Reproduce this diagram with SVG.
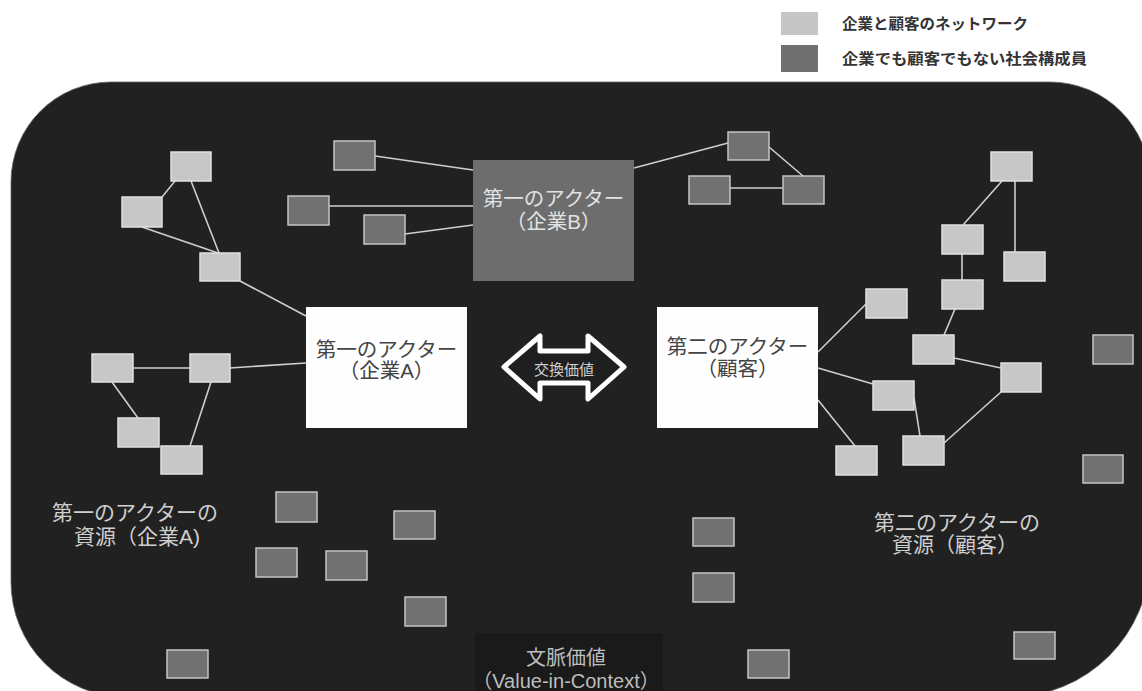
<svg xmlns="http://www.w3.org/2000/svg" width="1142" height="691" viewBox="0 0 1142 691">
<defs>
<style>
.t{font-family:"Liberation Sans","Noto Sans CJK JP",sans-serif;text-anchor:middle}
.lt{fill:#c7c7c7;stroke:#e0e0e0;stroke-width:1.5}
.dk{fill:#717171;stroke:#c4c4c4;stroke-width:1.5}
.ln{stroke:#cfcfcf;stroke-width:1.6;fill:none}
.actor{font-size:20.5px;fill:#444}
.lab{font-size:21px;fill:#cfcfcf}
.leg{font-family:"Noto Sans CJK JP",sans-serif;font-size:15px;font-weight:bold;fill:#333}
</style>
</defs>
<rect width="1142" height="691" fill="#ffffff"/>
<g id="legend">
<rect x="781" y="12" width="37" height="23" fill="#c6c6c6"/>
<text class="leg" x="842" y="29" textLength="186" lengthAdjust="spacingAndGlyphs">企業と顧客のネットワーク</text>
<rect x="781" y="45" width="37" height="27" fill="#707070"/>
<text class="leg" x="842" y="64" textLength="245" lengthAdjust="spacingAndGlyphs">企業でも顧客でもない社会構成員</text>
</g>
<g id="context">
<path d="M 11,182 A 100 100 0 0 1 111,82 L 1050,82 A 100 100 0 0 1 1150,182 L 1150,557 A 140 140 0 0 1 1010,697 L 126,697 A 115 115 0 0 1 11,582 Z" fill="#212121" stroke="#666" stroke-width="0.8"/>
</g>
<g id="connectors">
<line class="ln" x1="175" y1="181" x2="162" y2="197"/>
<line class="ln" x1="191" y1="181" x2="219" y2="253"/>
<line class="ln" x1="142" y1="227" x2="218" y2="253"/>
<line class="ln" x1="240" y1="281" x2="306" y2="316"/>
<line class="ln" x1="375" y1="156" x2="473" y2="170"/>
<line class="ln" x1="329" y1="206" x2="473" y2="206"/>
<line class="ln" x1="405" y1="234" x2="473" y2="225"/>
<line class="ln" x1="634" y1="168" x2="728" y2="143"/>
<line class="ln" x1="769" y1="147" x2="803" y2="176"/>
<line class="ln" x1="730" y1="188" x2="783" y2="188"/>
<line class="ln" x1="133" y1="368" x2="190" y2="368"/>
<line class="ln" x1="230" y1="368" x2="306" y2="363"/>
<line class="ln" x1="112" y1="382" x2="138" y2="418"/>
<line class="ln" x1="211" y1="382" x2="190" y2="446"/>
<line class="ln" x1="1002" y1="181" x2="963" y2="225"/>
<line class="ln" x1="1015" y1="181" x2="1015" y2="252"/>
<line class="ln" x1="962" y1="254" x2="962" y2="280"/>
<line class="ln" x1="955" y1="309" x2="944" y2="335"/>
<line class="ln" x1="954" y1="358" x2="1001" y2="368"/>
<line class="ln" x1="1001" y1="392" x2="944" y2="443"/>
<line class="ln" x1="914" y1="398" x2="920" y2="436"/>
<line class="ln" x1="818" y1="352" x2="866" y2="304"/>
<line class="ln" x1="818" y1="368" x2="873" y2="384"/>
<line class="ln" x1="818" y1="400" x2="855" y2="446"/>
</g>
<g id="actorB">
<rect x="473" y="160" width="161" height="121" fill="#6d6d6d"/>
<text class="t actor" x="553.5" y="206" style="fill:#e2e2e2">第一のアクター</text>
<text class="t actor" x="553.5" y="229" style="fill:#e2e2e2">（企業B）</text>
</g>
<g id="actorA">
<rect x="306" y="307" width="161" height="121" fill="#fefefe"/>
<text class="t actor" x="386.5" y="357">第一のアクター</text>
<text class="t actor" x="386.5" y="378">（企業A）</text>
</g>
<g id="actorC">
<rect x="657" y="307" width="161" height="121" fill="#fefefe"/>
<text class="t actor" x="737.5" y="354">第二のアクター</text>
<text class="t actor" x="737.5" y="376">（顧客）</text>
</g>
<g id="exchange">
<path d="M 504,367 L 540,336 L 540,351 L 588,351 L 588,336 L 624,367 L 588,399 L 588,383 L 540,383 L 540,399 Z" fill="#1f1f1f" stroke="#ffffff" stroke-width="5" stroke-linejoin="round"/>
<text class="t" x="564" y="375" style="font-size:15px;fill:#cfcfcf">交換価値</text>
</g>
<g id="light-nodes">
<rect id="n1" class="lt" x="171" y="152" width="40" height="29"/>
<rect id="n2" class="lt" x="122" y="197" width="40" height="30"/>
<rect id="n3" class="lt" x="200" y="253" width="40" height="28"/>
<rect id="n4" class="lt" x="92" y="354" width="41" height="28"/>
<rect id="n5" class="lt" x="190" y="354" width="40" height="28"/>
<rect id="n6" class="lt" x="118" y="418" width="41" height="29"/>
<rect id="n7" class="lt" x="161" y="446" width="41" height="28"/>
<rect id="n8" class="lt" x="991" y="152" width="41" height="29"/>
<rect id="n9" class="lt" x="942" y="225" width="41" height="29"/>
<rect id="n10" class="lt" x="1004" y="252" width="41" height="29"/>
<rect id="n11" class="lt" x="942" y="280" width="41" height="29"/>
<rect id="n12" class="lt" x="866" y="289" width="41" height="29"/>
<rect id="n13" class="lt" x="913" y="335" width="41" height="29"/>
<rect id="n14" class="lt" x="1001" y="363" width="40" height="29"/>
<rect id="n15" class="lt" x="873" y="381" width="41" height="29"/>
<rect id="n16" class="lt" x="903" y="436" width="41" height="29"/>
<rect id="n17" class="lt" x="836" y="446" width="41" height="29"/>
</g>
<g id="dark-nodes">
<rect id="d1" class="dk" x="334" y="141" width="41" height="29"/>
<rect id="d2" class="dk" x="288" y="196" width="41" height="29"/>
<rect id="d3" class="dk" x="364" y="215" width="41" height="29"/>
<rect id="d4" class="dk" x="728" y="132" width="41" height="28"/>
<rect id="d5" class="dk" x="689" y="176" width="41" height="28"/>
<rect id="d6" class="dk" x="783" y="176" width="41" height="28"/>
<rect id="d7" class="dk" x="1093" y="335" width="40" height="29"/>
<rect id="d8" class="dk" x="1083" y="455" width="40" height="28"/>
<rect id="d9" class="dk" x="276" y="492" width="41" height="30"/>
<rect id="d10" class="dk" x="394" y="511" width="41" height="28"/>
<rect id="d11" class="dk" x="256" y="548" width="41" height="29"/>
<rect id="d12" class="dk" x="326" y="551" width="41" height="29"/>
<rect id="d13" class="dk" x="405" y="597" width="41" height="29"/>
<rect id="d14" class="dk" x="167" y="650" width="41" height="28"/>
<rect id="d15" class="dk" x="693" y="518" width="41" height="28"/>
<rect id="d16" class="dk" x="693" y="573" width="41" height="29"/>
<rect id="d17" class="dk" x="748" y="650" width="41" height="28"/>
<rect id="d18" class="dk" x="1014" y="632" width="41" height="27"/>
</g>
<g id="resourceA">
<text class="t lab" x="135" y="520">第一のアクターの</text>
<text class="t lab" x="137" y="544">資源（企業A)</text>
</g>
<g id="resourceC">
<text class="t lab" x="957" y="530">第二のアクターの</text>
<text class="t lab" x="955" y="552">資源（顧客）</text>
</g>
<g id="valueInContext">
<rect x="475" y="633" width="188" height="70" fill="#1a1a1a"/>
<text class="t lab" x="566" y="665" style="font-size:20px;fill:#bdbdbd">文脈価値</text>
<text class="t lab" x="566" y="688" style="font-size:20px;fill:#bdbdbd">（Value-in-Context）</text>
</g>
</svg>
